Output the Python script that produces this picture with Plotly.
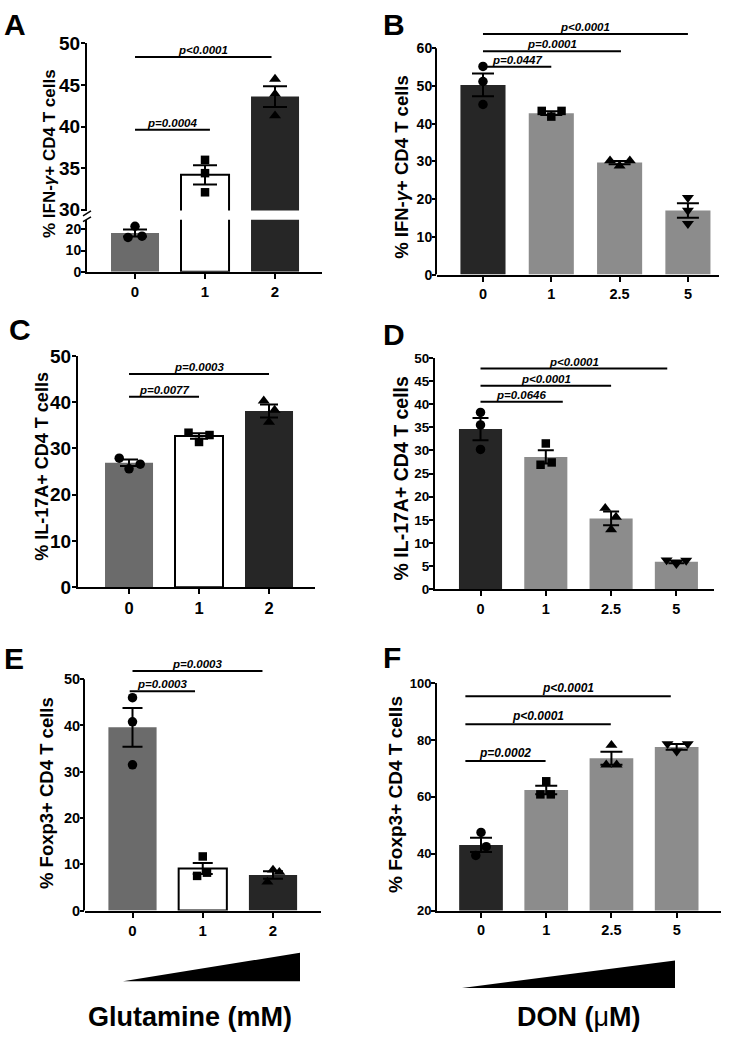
import plotly.graph_objects as go

W, H = 738, 1049
FONT = "Liberation Sans, Arial, sans-serif"

# ------------------------------------------------------------------ data
glut_ticks = ["0", "1", "2"]
don_ticks = ["0", "1", "2.5", "5"]

# A: IFN-g+ vs glutamine
A_mean = [18.3, 34.2, 43.6]
A_sem = [1.7, 1.15, 1.25]
A_pts = [[16.2, 21.5, 16.8], [36.0, 34.4, 32.1], [45.7, 43.9, 41.3]]
A_sig = [(0, 1.07, 39.6, "p=0.0004"), (0, 1.95, 48.35, "p<0.0001")]

# B: IFN-g+ vs DON
B_mean = [50.3, 42.8, 29.7, 17.0]
B_sem = [3.0, 0.5, 0.45, 1.95]
B_pts = [[55.2, 51.2, 45.1], [43.4, 41.9, 43.4], [30.2, 28.8, 30.2], [20.4, 17.0, 13.5]]
B_sig = [(0, 1.0, 55.1, "p=0.0447"), (0, 2.02, 59.2, "p=0.0001"), (0, 3.0, 63.8, "p<0.0001")]

# C: IL-17A+ vs glutamine
C_mean = [26.9, 32.7, 38.1]
C_sem = [0.7, 0.6, 1.4]
C_pts = [[27.9, 25.6, 26.6], [33.4, 31.4, 32.9], [40.3, 38.3, 35.7]]
C_sig = [(0, 1.0, 41.2, "p=0.0077"), (0, 2.0, 46.1, "p=0.0003")]

# D: IL-17A+ vs DON
D_mean = [34.6, 28.6, 15.3, 5.9]
D_sem = [2.4, 1.45, 1.5, 0.3]
D_pts = [[38.2, 35.5, 30.2], [31.5, 26.9, 27.4], [17.5, 15.6, 12.9], [6.3, 5.5, 6.2]]
D_sig = [(0, 1.26, 40.5, "p=0.0646"), (0, 2.0, 44.0, "p<0.0001"), (0, 2.86, 47.7, "p<0.0001")]

# E: Foxp3+ vs glutamine
E_mean = [39.6, 9.1, 7.7]
E_sem = [4.2, 1.2, 0.8]
E_pts = [[46.0, 40.8, 31.5], [11.7, 7.5, 8.2], [8.8, 8.3, 6.2]]
E_sig = [(-0.04, 0.89, 47.4, "p=0.0003"), (0, 1.85, 51.8, "p=0.0003")]

# F: Foxp3+ vs DON
F_mean = [43.1, 62.4, 73.6, 77.6]
F_sem = [2.5, 1.5, 2.3, 1.0]
F_pts = [[47.5, 42.5, 39.4], [65.5, 60.9, 60.9], [78.2, 71.3, 71.3], [78.7, 78.7, 76.1]]
F_sig = [(-0.24, 0.99, 72.6, "p=0.0002"), (-0.24, 1.99, 85.6, "p<0.0001"), (-0.24, 2.91, 95.4, "p<0.0001")]

# ------------------------------------------------------------------ style
glut_colors = ["#6b6b6b", "#ffffff", "#262626"]
don_colors = ["#262626", "#8c8c8c", "#8c8c8c", "#8c8c8c"]
symbols = ["circle", "square", "triangle-up", "triangle-down"]
msizes = [9.5, 8.5, 10.5, 10.5]

# horizontal jitter of the dots (style)
A_jit = [[-0.1, 0, 0.1], [0, 0, 0], [0, 0, 0]]
B_jit = [[0, 0, 0], [-0.14, 0, 0.15], [-0.14, 0, 0.15], [0, 0, 0]]
C_jit = [[-0.14, 0, 0.16], [-0.15, 0, 0.15], [-0.075, 0.08, 0]]
D_jit = [[0, 0, 0], [0, -0.08, 0.09], [-0.09, 0.075, 0], [-0.15, 0, 0.15]]
E_jit = [[0, 0, 0], [0, -0.08, 0.06], [0, 0.09, -0.08]]
F_jit = [[0, 0.08, -0.08], [0, -0.09, 0.07], [0, -0.08, 0.08], [-0.14, 0.17, 0]]


def px(p):
    return p / W


def py(p):
    return 1 - p / H


fig = go.Figure()


def names(n):
    return ("x" if n == 1 else f"x{n}"), ("y" if n == 1 else f"y{n}")


def lkey(axname):
    return axname[0] + "axis" + axname[1:]


def fmt(v):
    return f"<b>{v}</b>"


def set_x(xn, yn, dom, rng, labels, fs):
    fig.update_layout(**{lkey(xn): dict(
        domain=[px(dom[0]), px(dom[1])], range=rng, anchor=yn,
        tickvals=list(range(len(labels))), ticktext=[fmt(t) for t in labels],
        ticks="outside", ticklen=5, tickwidth=2, tickcolor="black",
        showline=True, linecolor="black", linewidth=2,
        showgrid=False, zeroline=False, fixedrange=True,
        tickfont=dict(family=FONT, size=fs, color="black"))})


def set_y(yn, xn, dom, rng, tickvals, fs, showline=True):
    fig.update_layout(**{lkey(yn): dict(
        domain=[py(dom[1]), py(dom[0])], range=rng, anchor=xn,
        tickvals=tickvals, ticktext=[fmt(t) for t in tickvals],
        ticks="outside", ticklen=4, tickwidth=2, tickcolor="black",
        ticklabelstandoff=-3,
        showline=showline, linecolor="black", linewidth=2,
        showgrid=False, zeroline=False, fixedrange=True,
        tickfont=dict(family=FONT, size=fs, color="black"))})


def bars(xn, yn, means, colors, w):
    fig.add_trace(go.Bar(
        x=list(range(len(means))), y=means, width=w,
        marker=dict(color=colors,
                    line=dict(color="black",
                              width=[2 if c == "#ffffff" else 0 for c in colors])),
        xaxis=xn, yaxis=yn, showlegend=False, hoverinfo="skip"))


def errs(xn, yn, idx, means, sems, capw):
    fig.add_trace(go.Scatter(
        x=idx, y=[means[i] for i in idx], mode="markers",
        marker=dict(size=2, color="rgba(0,0,0,0)"),
        error_y=dict(type="data", array=[sems[i] for i in idx], color="black",
                     thickness=2, width=capw),
        xaxis=xn, yaxis=yn, showlegend=False, hoverinfo="skip", cliponaxis=False))


def dots(xn, yn, idx, pts, jit):
    for g in idx:
        fig.add_trace(go.Scatter(
            x=[g + j for j in jit[g]], y=pts[g], mode="markers",
            marker=dict(symbol=symbols[g], size=msizes[g], color="black"),
            xaxis=xn, yaxis=yn, showlegend=False, hoverinfo="skip", cliponaxis=False))


def sigs(xn, yn, sig, fs):
    for a, b, y, lab in sig:
        fig.add_trace(go.Scatter(
            x=[a, b], y=[y, y], mode="lines", line=dict(color="black", width=2),
            xaxis=xn, yaxis=yn, showlegend=False, hoverinfo="skip"))
        fig.add_annotation(x=(a + b) / 2, y=y, xref=xn, yref=yn,
                           text=f"<b><i>{lab}</i></b>", showarrow=False,
                           xanchor="center", yanchor="bottom", yshift=-1,
                           font=dict(family=FONT, size=fs, color="black"))


def spine(xn, yn, y0, y1):
    fig.add_shape(type="line", xref=f"{xn} domain", yref=yn,
                  xsizemode="pixel", xanchor=0, x0=-1, x1=-1, y0=y0, y1=y1,
                  line=dict(color="black", width=2))


def text_at(x, y, text, fs, angle=0, xanchor="center"):
    fig.add_annotation(x=px(x), y=py(y), xref="paper", yref="paper", text=text,
                       textangle=angle, showarrow=False, xanchor=xanchor, yanchor="middle",
                       font=dict(family=FONT, size=fs, color="black"))


def ylabel(x, y, text, fs):
    text_at(x, y, f"<b>{text}</b>", fs, angle=-90)


def letter(x, y, t):
    text_at(x, y, f"<b>{t}</b>", 30, xanchor="left")


# ---------------- Panel A (broken axis)
xA, yA = names(1)
yA2 = "y7"
set_x(xA, yA, (87, 322), [-0.686, 2.671], glut_ticks, 15)
set_y(yA, xA, (214, 267), [0, 24.6], [0, 10, 20], 14)
set_y(yA2, xA, (34, 204.7), [29.9, 50], [30, 35, 40, 45, 50], 19)
bars(xA, yA, A_mean, glut_colors, 0.686)
bars(xA, yA2, A_mean, glut_colors, 0.686)
errs(xA, yA, [0], A_mean, A_sem, 12)
errs(xA, yA2, [1, 2], A_mean, A_sem, 12)
dots(xA, yA, [0], A_pts, A_jit)
dots(xA, yA2, [1, 2], A_pts, A_jit)
sigs(xA, yA2, A_sig, 11.5)
for yb in (0, 6):
    fig.add_shape(type="line", xref="paper", yref="paper",
                  x0=px(83), x1=px(91), y0=py(210 + yb), y1=py(205 + yb),
                  line=dict(color="black", width=1.5))
ylabel(49, 147, "% IFN-<i>γ</i>+ CD4 T cells", 17)
letter(2, 15, "A")

# ---------------- Panel B
xB, yB = names(2)
set_x(xB, yB, (437, 719), [-0.673, 3.455], don_ticks, 14.5)
set_y(yB, xB, (16, 270), [0, 66], [0, 10, 20, 30, 40, 50, 60], 14, showline=False)
spine(xB, yB, 0, 60)
bars(xB, yB, B_mean, don_colors, 0.66)
errs(xB, yB, [0, 1, 2, 3], B_mean, B_sem, 11)
dots(xB, yB, [0, 1, 2, 3], B_pts, B_jit)
sigs(xB, yB, B_sig, 11.5)
ylabel(402, 160, "% IFN-<i>γ</i>+ CD4 T cells", 18.5)
letter(381, 15, "B")

# ---------------- Panel C
xC, yC = names(3)
set_x(xC, yC, (78, 315), [-0.729, 2.657], glut_ticks, 16.5)
set_y(yC, xC, (353, 589), [0, 50], [0, 10, 20, 30, 40, 50], 19)
bars(xC, yC, C_mean, glut_colors, 0.686)
errs(xC, yC, [0, 1, 2], C_mean, C_sem, 9)
dots(xC, yC, [0, 1, 2], C_pts, C_jit)
sigs(xC, yC, C_sig, 11.5)
ylabel(42, 466, "% IL-17A+ CD4 T cells", 18)
letter(7, 326, "C")

# ---------------- Panel D
xD, yD = names(4)
set_x(xD, yD, (435, 714), [-0.697, 3.576], don_ticks, 14.5)
set_y(yD, xD, (355, 591), [0, 50], list(range(0, 51, 5)), 13.5)
bars(xD, yD, D_mean, don_colors, 0.66)
errs(xD, yD, [0, 1, 2, 3], D_mean, D_sem, 8)
dots(xD, yD, [0, 1, 2, 3], D_pts, D_jit)
sigs(xD, yD, D_sig, 11.5)
ylabel(401, 478, "% IL-17A+ CD4 T cells", 19.5)
letter(381, 331, "D")

# ---------------- Panel E
xE, yE = names(5)
set_x(xE, yE, (85, 321), [-0.676, 2.683], glut_ticks, 15)
set_y(yE, xE, (664, 919), [0, 54], [0, 10, 20, 30, 40, 50], 14.5, showline=False)
spine(xE, yE, 0, 50)
bars(xE, yE, E_mean, glut_colors, 0.686)
errs(xE, yE, [0, 1, 2], E_mean, E_sem, 10)
dots(xE, yE, [0, 1, 2], E_pts, E_jit)
sigs(xE, yE, E_sig, 11.5)
ylabel(46, 799, "% Foxp3+ CD4 T cells", 18.5)
letter(2, 662, "E")

# ---------------- Panel F
xF, yF = names(6)
set_x(xF, yF, (437, 721), [-0.675, 3.68], don_ticks, 14.5)
set_y(yF, xF, (687, 919), [20, 100], [20, 40, 60, 80, 100], 13)
bars(xF, yF, F_mean, don_colors, 0.67)
errs(xF, yF, [0, 1, 2, 3], F_mean, F_sem, 11)
dots(xF, yF, [0, 1, 2, 3], F_pts, F_jit)
sigs(xF, yF, F_sig, 12)
ylabel(396, 801, "% Foxp3+ CD4 T cells", 19)
letter(381, 661, "F")

# ---------------- dose wedges and axis captions
fig.add_shape(type="path", xref="paper", yref="paper",
              path=f"M {px(123)} {py(991)} L {px(300)} {py(991)} L {px(300)} {py(962)} Z",
              fillcolor="black", line=dict(color="black", width=0))
fig.add_shape(type="path", xref="paper", yref="paper",
              path=f"M {px(462)} {py(998)} L {px(675)} {py(998)} L {px(675)} {py(970)} Z",
              fillcolor="black", line=dict(color="black", width=0))
text_at(190, 1028, "<b>Glutamine (mM)</b>", 27)
text_at(579, 1028, "<b>DON (</b><span style='font-weight:normal'>μ</span><b>M)</b>", 27)

fig.update_layout(autosize=True,
                  margin=dict(l=0, r=0, t=0, b=0),
                  paper_bgcolor="white", plot_bgcolor="rgba(0,0,0,0)",
                  barmode="overlay", showlegend=False)

# the plot div is pinned to the window's top-left corner at exactly 738x1049
fig.write_html(
    "out.html", config={"staticPlot": True},
    default_width=f"{W}px; position:absolute; left:0; top:0",
    default_height=f"{H}px")
